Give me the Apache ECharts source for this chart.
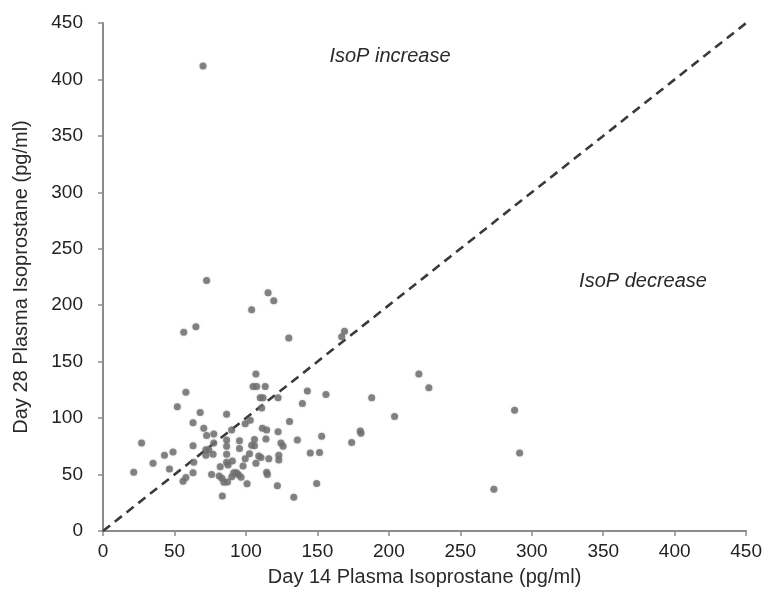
<!DOCTYPE html>
<html>
<head>
<meta charset="utf-8">
<script src="https://cdn.jsdelivr.net/npm/echarts@6/dist/echarts.min.js"></script>
<style>html,body{margin:0;padding:0;background:#fff;}#c{width:765px;height:606px;}</style>
</head>
<body>
<div id="c"></div>
<script>
// Day 14 (x) and Day 28 (y) plasma isoprostane values, pg/ml
const day14 = [70, 72.5, 115.5, 119.5, 104, 56.5, 65, 130, 169, 167,
  107, 105, 107.5, 113.5, 110, 112, 122.5, 111, 143, 156,
  139.5, 58, 52, 68, 86.5, 221, 228, 188, 204, 180,
  180.5, 174, 288, 291.5, 273.5, 27, 21.5, 35, 43, 49,
  46.5, 63, 63, 63.5, 63, 56, 58, 70.5, 72.5, 77.5,
  72, 74, 72, 77, 77.5, 86.5, 86.5, 86.5, 86.5, 82,
  87.5, 90.5, 95.5, 95.5, 99.5, 103, 90, 106, 106, 104,
  102.5, 99.5, 98, 107, 111.5, 114.5, 114, 110.5, 116, 122.5,
  124.5, 126, 123, 123, 130.5, 136, 145, 151.5, 153, 114.5,
  115, 122, 149.5, 133.5, 83.5, 109, 76, 81.3, 83.2, 84.6,
  87.1, 90.1, 91.5, 93.4, 94.8, 96.6, 100.8];
const day28 = [412, 222, 211, 204, 196, 176, 181, 171, 177, 172,
  139, 128, 128, 128, 118, 118, 118, 109, 124, 121,
  113, 123, 110, 105, 103.5, 139, 127, 118, 101.5, 88.5,
  86.5, 78.5, 107, 69, 37, 78, 52, 60, 67, 70,
  55, 96, 75.5, 61, 51.5, 44, 47.5, 91, 84.5, 86,
  72, 72, 67, 68, 78, 80.5, 75, 68, 61, 57,
  58.5, 62, 80, 73, 95, 98, 89.5, 81, 75.5, 76,
  68.5, 64, 57.5, 60, 91, 89.5, 81.5, 65, 64, 88,
  78, 75, 67, 63, 97, 80.5, 69, 69.5, 84, 52,
  50, 40, 42, 30, 31, 66.5, 50, 48.7, 46.7, 43.1,
  43.4, 48.1, 51.6, 51.6, 49.9, 47.6, 41.9];
// line of identity (no change)
const identity = [0, 450];
const axisMin = 0, axisMax = 450, axisStep = 50;
const xTitle = 'Day 14 Plasma Isoprostane (pg/ml)';
const yTitle = 'Day 28 Plasma Isoprostane (pg/ml)';
const noteUp = 'IsoP increase';
const noteDown = 'IsoP decrease';

const points = day14.map((v, i) => [v, day28[i]]);
const font = '"Liberation Sans", Arial, sans-serif';
const chart = echarts.init(document.getElementById('c'), null, {renderer: 'canvas'});

const axisCommon = {
  type: 'value', min: axisMin, max: axisMax, interval: axisStep,
  splitLine: {show: false},
  axisLine: {show: true, onZero: false, lineStyle: {color: '#8c8c8c', width: 2}},
  axisTick: {show: true, inside: false, length: 5, lineStyle: {color: '#8c8c8c', width: 1.5}},
  nameLocation: 'middle',
  nameTextStyle: {fontFamily: font, fontSize: 20, color: '#2a2a2a'}
};

chart.setOption({
  animation: false,
  backgroundColor: '#ffffff',
  grid: {left: 103, right: 18, top: 23, bottom: 75, containLabel: false},
  xAxis: Object.assign({}, axisCommon, {
    name: xTitle, nameGap: 36,
    axisLabel: {fontFamily: font, fontSize: 19, color: '#222', margin: 11}
  }),
  yAxis: Object.assign({}, axisCommon, {
    name: yTitle, nameGap: 72,
    axisLabel: {fontFamily: font, fontSize: 19, color: '#222', margin: 20}
  }),
  series: [
    {
      type: 'line',
      data: [[identity[0], identity[0]], [identity[1], identity[1]]],
      symbol: 'none',
      silent: true,
      lineStyle: {color: '#3a3a3a', width: 2.6, type: [9, 6]},
      z: 2
    },
    {
      type: 'scatter',
      data: points,
      symbol: 'circle',
      symbolSize: 7,
      itemStyle: {color: '#6e6e6e', shadowColor: 'rgba(110,110,110,0.5)', shadowBlur: 2},
      z: 3
    }
  ],
  graphic: [
    {type: 'text', x: 390, y: 56, style: {text: noteUp, fontFamily: font, fontSize: 20, fontStyle: 'italic', fill: '#2a2a2a', align: 'center', verticalAlign: 'middle'}},
    {type: 'text', x: 643, y: 281, style: {text: noteDown, fontFamily: font, fontSize: 20, fontStyle: 'italic', fill: '#2a2a2a', align: 'center', verticalAlign: 'middle'}}
  ]
});
</script>
</body>
</html>
